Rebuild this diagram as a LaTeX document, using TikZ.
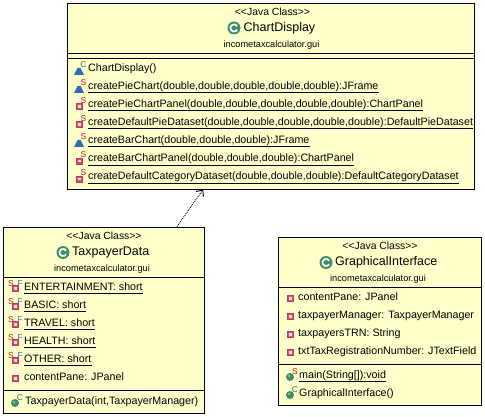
\documentclass[tikz,border=0pt]{standalone}
\usepackage{fontspec}
\setmainfont{Liberation Sans}
\usetikzlibrary{arrows.meta}
\definecolor{noteyellow}{HTML}{FFFFCC}
\definecolor{pubblue}{HTML}{2C6DAF}
\definecolor{privred}{HTML}{E0506A}
\definecolor{classgreen}{HTML}{3E8F66}
\definecolor{statred}{HTML}{C8102E}
\definecolor{finalblue}{HTML}{2F6FC0}
\tikzset{
	classbox/.style={draw=black,fill=noteyellow,line width=.9pt,inner sep=0pt},
	stereo/.style={inner sep=0pt,font=\fontsize{10.4}{11}\selectfont},
	title/.style={anchor=west,inner sep=0pt,font=\fontsize{12.5}{14}\selectfont},
	package/.style={inner sep=0pt,font=\fontsize{9.2}{10}\selectfont},
	row/.style={anchor=west,inner sep=0pt,text height=7.5pt,text depth=3pt,font=\fontsize{10.7}{11}\selectfont},
	sup/.style={inner sep=0pt,font=\fontsize{8.5}{9}\selectfont},
}
% member icons
\newcommand{\pubtri}[2]{\coordinate(#1)at(#2);\fill[pubblue](#1)+(-5,4)--+(5,4)--+(1.5,-3)--+(-1.5,-3)--cycle;}
\newcommand{\privbox}[2]{\coordinate(#1)at(#2);\draw[privred!80!black,fill=privred](#1)+(-3,-3)rectangle+(3,3);\fill[white!80!privred](#1)+(-1.2,-1.2)rectangle+(1.2,1.2);}
\newcommand{\pubdot}[2]{\coordinate(#1)at(#2);\fill[classgreen](#1)circle(4);\fill[white!60!classgreen](#1)+(-1,-1)circle(1);}
\newcommand{\classmark}[2]{\coordinate(#1)at(#2);\fill[classgreen](#1)circle(6.5);\draw[white,line width=1.7pt](#1)+(3.1,-1.8)arc(-30:-330:3.6);}
\begin{document}
\begin{tikzpicture}[x=1pt,y=-1pt]
	\useasboundingbox(0,0)rectangle(485,417);
	% ChartDisplay
	\node[classbox,minimum width=407,minimum height=186](chartDisplay)at(271,96){};
	\draw[line width=.9pt](chartDisplay.west|-0,53)--(chartDisplay.east|-0,53);
	\draw[line width=.9pt](chartDisplay.west|-0,58)--(chartDisplay.east|-0,58);
	\node[stereo](chartStereo)at(272.5,12){<{}<Java Class>{}>};
	\classmark{chartMark}{234,28}
	\node[title](chartTitle)at(243.5,28){ChartDisplay};
	\node[package](chartPackage)at(271.5,45){incometaxcalculator.gui};
	\pubtri{ctorTri}{79,71}
	\node[sup,text=classgreen!80!black](ctorSup)at(83.5,65){C};
	\node[row](ctorRow)at(88,69){ChartDisplay()};
	\pubtri{pieTri}{79,89}
	\node[sup,text=statred](pieSup)at(83.5,83){S};
	\node[row](pieRow)at(88,87){createPieChart(double,double,double,double,double):JFrame};
	\draw(pieRow.south west)--(pieRow.south east);
	\privbox{panelBox}{79.5,106.5}
	\node[sup,text=statred](panelSup)at(83.5,101){S};
	\node[row](panelRow)at(88,105){createPieChartPanel(double,double,double,double,double):ChartPanel};
	\draw(panelRow.south west)--(panelRow.south east);
	\privbox{dataBox}{79.5,124.5}
	\node[sup,text=statred](dataSup)at(83.5,119){S};
	\node[row](dataRow)at(88,123){createDefaultPieDataset(double,double,double,double,double):DefaultPieDataset};
	\draw(dataRow.south west)--(dataRow.south east);
	\pubtri{barTri}{79,143}
	\node[sup,text=statred](barSup)at(83.5,137){S};
	\node[row](barRow)at(88,141){createBarChart(double,double,double):JFrame};
	\draw(barRow.south west)--(barRow.south east);
	\privbox{barPanelBox}{79.5,161}
	\node[sup,text=statred](barPanelSup)at(83.5,155){S};
	\node[row](barPanelRow)at(88,159.5){createBarChartPanel(double,double,double):ChartPanel};
	\draw(barPanelRow.south west)--(barPanelRow.south east);
	\privbox{catBox}{79.5,179}
	\node[sup,text=statred](catSup)at(83.5,173){S};
	\node[row](catRow)at(88,177.5){createDefaultCategoryDataset(double,double,double):DefaultCategoryDataset};
	\draw(catRow.south west)--(catRow.south east);
	% TaxpayerData
	\node[classbox,minimum width=201,minimum height=186](taxpayerData)at(104,320){};
	\draw[line width=.9pt](taxpayerData.west|-0,277)--(taxpayerData.east|-0,277);
	\draw[line width=.9pt](taxpayerData.west|-0,390)--(taxpayerData.east|-0,390);
	\node[stereo](taxStereo)at(104,236){<{}<Java Class>{}>};
	\classmark{taxMark}{63,252.5}
	\node[title](taxTitle)at(72,252.5){TaxpayerData};
	\node[package](taxPackage)at(102,269){incometaxcalculator.gui};
	\node[sup,text=statred](entS)at(11,284){S};
	\privbox{entBox}{15.5,288.5}
	\node[sup,text=finalblue](entF)at(20,284){F};
	\node[row](entRow)at(24,288){ENTERTAINMENT: short\hspace{4pt}};
	\draw(entRow.south west)--(entRow.south east);
	\node[sup,text=statred](basicS)at(11,302){S};
	\privbox{basicBox}{15.5,306.5}
	\node[sup,text=finalblue](basicF)at(20,302){F};
	\node[row](basicRow)at(24,306){BASIC: short};
	\draw(basicRow.south west)--(basicRow.south east);
	\node[sup,text=statred](travelS)at(11,320){S};
	\privbox{travelBox}{15.5,324.5}
	\node[sup,text=finalblue](travelF)at(20,320){F};
	\node[row](travelRow)at(24,324){TRAVEL: short};
	\draw(travelRow.south west)--(travelRow.south east);
	\node[sup,text=statred](healthS)at(11,338){S};
	\privbox{healthBox}{15.5,342.5}
	\node[sup,text=finalblue](healthF)at(20,338){F};
	\node[row](healthRow)at(24,342){HEALTH: short};
	\draw(healthRow.south west)--(healthRow.south east);
	\node[sup,text=statred](otherS)at(11,356){S};
	\privbox{otherBox}{15.5,360.5}
	\node[sup,text=finalblue](otherF)at(20,356){F};
	\node[row](otherRow)at(24,360){OTHER: short};
	\draw(otherRow.south west)--(otherRow.south east);
	\privbox{paneBox}{15.5,378.5}
	\node[row](paneRow)at(24,378){contentPane: JPanel};
	\pubdot{taxCtorDot}{15,403}
	\node[sup,text=classgreen!80!black](taxCtorSup)at(20,398){C};
	\node[row](taxCtorRow)at(25,402){TaxpayerData(int,TaxpayerManager)};
	% GraphicalInterface
	\node[classbox,minimum width=203,minimum height=168](graphicalInterface)at(379.5,321){};
	\draw[line width=.9pt](graphicalInterface.west|-0,287)--(graphicalInterface.east|-0,287);
	\draw[line width=.9pt](graphicalInterface.west|-0,364)--(graphicalInterface.east|-0,364);
	\node[stereo](guiStereo)at(380,246){<{}<Java Class>{}>};
	\classmark{guiMark}{326,262.5}
	\node[title](guiTitle)at(335,262.5){GraphicalInterface};
	\node[package](guiPackage)at(378,279){incometaxcalculator.gui};
	\privbox{guiPaneBox}{290.5,298.5}
	\node[row](guiPaneRow)at(298,298){contentPane: JPanel};
	\privbox{managerBox}{290.5,316.5}
	\node[row](managerRow)at(298,316){taxpayerManager: TaxpayerManager};
	\privbox{trnBox}{290.5,334.5}
	\node[row](trnRow)at(298,334){taxpayersTRN: String};
	\privbox{fieldBox}{290.5,352.5}
	\node[row](fieldRow)at(298,352){txtTaxRegistrationNumber: JTextField};
	\pubdot{mainDot}{290,377}
	\node[sup,text=statred](mainSup)at(295,372){S};
	\node[row](mainRow)at(299,376){main(String[]):void};
	\draw(mainRow.south west)--(mainRow.south east);
	\pubdot{guiCtorDot}{290,395}
	\node[sup,text=classgreen!80!black](guiCtorSup)at(295,390){C};
	\node[row](guiCtorRow)at(299,394){GraphicalInterface()};
	% dependency
	\draw[densely dotted,line width=.9pt,-{Straight Barb[length=5pt,width=9pt]}](taxpayerData.52.6)--(chartDisplay.234);
\end{tikzpicture}
\end{document}
